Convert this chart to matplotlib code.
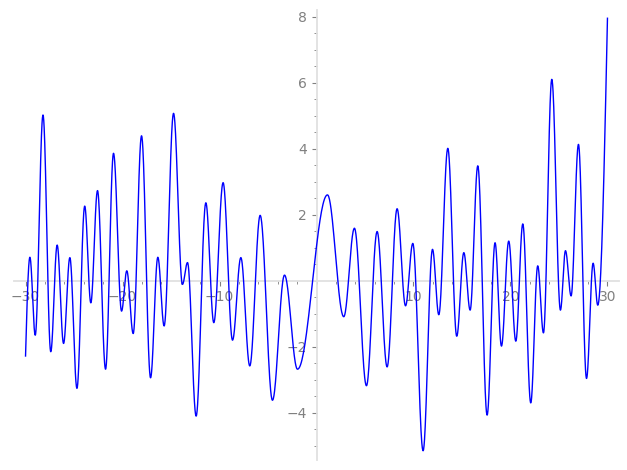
import numpy as np
import matplotlib
matplotlib.use("Agg")
import matplotlib.pyplot as plt
from matplotlib.ticker import FixedLocator, MultipleLocator

# Local extrema (and end points) of the curve
x_ext = [-30.0, -29.55, -29.0, -28.2, -27.4, -26.74, -26.08, -25.43, -24.7, -23.9,
         -23.27, -22.58, -21.75, -20.93, -20.1, -19.56, -18.9, -18.04, -17.11, -16.36,
         -15.71, -14.74, -13.82, -13.3, -12.41, -11.41, -10.59, -9.63, -8.66, -7.8,
         -6.88, -5.81, -4.54, -3.30, -1.96, 1.13, 2.81, 3.91, 5.15, 6.25,
         7.28, 8.31, 9.18, 9.93, 10.99, 11.96, 12.61, 13.54, 14.46, 15.19,
         15.84, 16.63, 17.59, 18.41, 19.07, 19.82, 20.55, 21.27, 22.09, 22.81,
         23.4, 24.26, 25.15, 25.67, 26.25, 27.01, 27.84, 28.52, 29.0, 30.0]
y_ext = [-2.28, 0.71, -1.65, 5.02, -2.15, 1.08, -1.90, 0.70, -3.26, 2.26,
         -0.67, 2.73, -2.68, 3.86, -0.92, 0.30, -1.60, 4.39, -2.94, 0.71,
         -1.37, 5.07, -0.11, 0.55, -4.10, 2.36, -1.27, 2.97, -1.80, 0.70,
         -2.58, 1.98, -3.62, 0.17, -2.68, 2.60, -1.09, 1.59, -3.18, 1.49,
         -2.61, 2.18, -0.76, 1.13, -5.15, 0.95, -1.03, 4.01, -1.68, 0.85,
         -0.89, 3.48, -4.07, 1.15, -1.98, 1.20, -1.83, 1.72, -3.70, 0.45,
         -1.58, 6.10, -0.89, 0.91, -0.46, 4.13, -2.96, 0.53, -0.74, 7.95]

x_ticks = [-30, -20, -10, 10, 20, 30]
y_ticks = [-4, -2, 2, 4, 6, 8]

# Smooth path through the extrema (cosine easing between turning points)
xs, ys = [], []
n_seg = len(x_ext) - 1
for i in range(n_seg):
    t = np.linspace(0, 1, 40, endpoint=(i == n_seg - 1))
    if i == 0:
        e = np.sin(t * np.pi / 2)
    elif i == n_seg - 1:
        e = 1 - np.cos(t * np.pi / 2)
    else:
        e = (1 - np.cos(t * np.pi)) / 2
    xs.append(x_ext[i] + (x_ext[i + 1] - x_ext[i]) * t)
    ys.append(y_ext[i] + (y_ext[i + 1] - y_ext[i]) * e)
xs = np.concatenate(xs)
ys = np.concatenate(ys)

fig = plt.figure(figsize=(6.27, 4.70), dpi=100)
ax = fig.add_axes([13.9 / 627, 10 / 470, 605.2 / 627, 450 / 470])
ax.plot(xs, ys, color="blue", linewidth=1.0, zorder=3)

ax.set_xlim(-31.2, 31.2)
ax.set_ylim(-5.43, 8.20)

for s in ["top", "right"]:
    ax.spines[s].set_visible(False)
ax.spines["left"].set_position(("data", 0))
ax.spines["bottom"].set_position(("data", 0))
for s in ["left", "bottom"]:
    ax.spines[s].set_color("0.88")
    ax.spines[s].set_linewidth(1.3)

ax.xaxis.set_major_locator(FixedLocator(x_ticks))
ax.yaxis.set_major_locator(FixedLocator(y_ticks))
ax.xaxis.set_minor_locator(MultipleLocator(2))
ax.yaxis.set_minor_locator(MultipleLocator(0.5))
ax.tick_params(which="both", colors="0.5", labelcolor="0.5", labelsize=10)
ax.set_facecolor("white")

fig.savefig("out.png", dpi=100)
